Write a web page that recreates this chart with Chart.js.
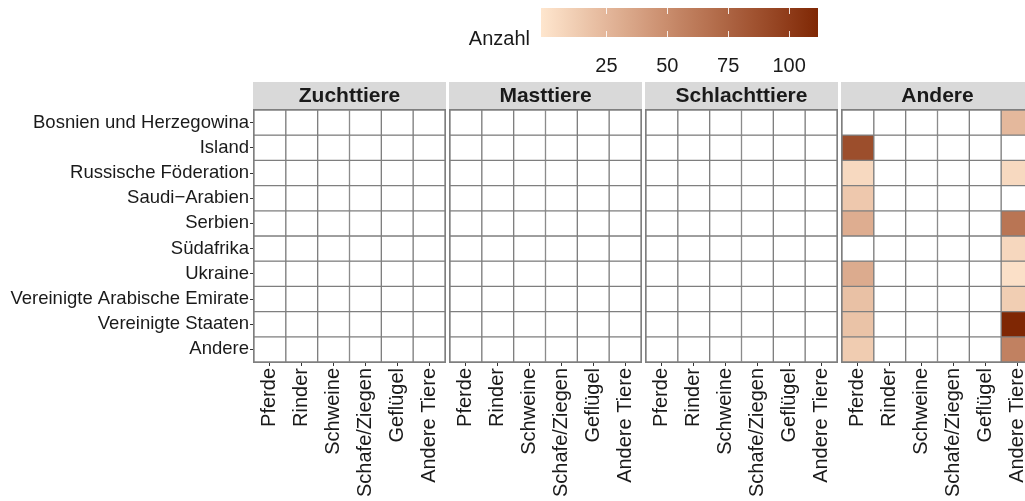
<!DOCTYPE html>
<html>
<head>
<meta charset="utf-8">
<script src="https://cdn.jsdelivr.net/npm/chart.js@4.4.1/dist/chart.umd.min.js"></script>
<style>
  html, body { margin: 0; padding: 0; background: #fff; overflow: hidden; }
  #wrap { position: relative; width: 1025px; height: 501px; overflow: hidden; }
  #wrap canvas { position: absolute; top: 0; }
</style>
</head>
<body>
<div id="wrap"></div>
<script>
// 1. DATEN
const countries = ['Bosnien und Herzegowina', 'Island', 'Russische Föderation', 'Saudi\u2212Arabien', 'Serbien',
  'Südafrika', 'Ukraine', 'Vereinigte Arabische Emirate', 'Vereinigte Staaten', 'Andere'];
const animals = ['Pferde', 'Rinder', 'Schweine', 'Schafe/Ziegen', 'Geflügel', 'Andere Tiere'];
const facets = ['Zuchttiere', 'Masttiere', 'Schlachttiere', 'Andere'];
const legendTicks = [25, 50, 75, 100];
const limits = [1, 109];

// Anzahl je Land (von oben nach unten), null = kein Eintrag
const leer = [null, null, null, null, null, null, null, null, null, null];
const anderePferde      = [null, 87, 8, 17, 32, null, 33, 21, 20, 15];
const andereRinder      = [null, null, null, null, null, null, null, null, null, null];
const andereSchweine    = [null, null, null, null, null, null, null, null, null, null];
const andereSchafe      = [null, null, null, null, null, null, null, null, null, null];
const andereGefluegel   = [null, null, null, null, null, null, null, null, null, null];
const andereAndereTiere = [26, null, 8, null, 64, 9, 4, 14, 109, 57];

const facetColumns = [
  [leer, leer, leer, leer, leer, leer],
  [leer, leer, leer, leer, leer, leer],
  [leer, leer, leer, leer, leer, leer],
  [anderePferde, andereRinder, andereSchweine, andereSchafe, andereGefluegel, andereAndereTiere]
];

// 2. FARBSKALA (Lab-Interpolation wie ggplot)
const lowColor = '#FEE6CE', highColor = '#7F2704';
function hexToRgb(h) { return [1, 3, 5].map(i => parseInt(h.substr(i, 2), 16)); }
function toLin(c) { c /= 255; return c <= 0.04045 ? c / 12.92 : Math.pow((c + 0.055) / 1.055, 2.4); }
function fromLin(c) {
  c = c <= 0.0031308 ? 12.92 * c : 1.055 * Math.pow(c, 1 / 2.4) - 0.055;
  return Math.round(Math.max(0, Math.min(1, c)) * 255);
}
function rgbToLab(rgb) {
  const [r, g, b] = rgb.map(toLin);
  const x = (0.4124 * r + 0.3576 * g + 0.1805 * b) / 0.95047;
  const y = 0.2126 * r + 0.7152 * g + 0.0722 * b;
  const z = (0.0193 * r + 0.1192 * g + 0.9505 * b) / 1.08883;
  const f = t => t > 0.008856 ? Math.cbrt(t) : 7.787 * t + 16 / 116;
  return [116 * f(y) - 16, 500 * (f(x) - f(y)), 200 * (f(y) - f(z))];
}
function labToRgb([L, a, b]) {
  const fy = (L + 16) / 116, fx = fy + a / 500, fz = fy - b / 200;
  const inv = t => t * t * t > 0.008856 ? t * t * t : (t - 16 / 116) / 7.787;
  const x = inv(fx) * 0.95047, y = inv(fy), z = inv(fz) * 1.08883;
  const r = 3.2406 * x - 1.5372 * y - 0.4986 * z;
  const g = -0.9689 * x + 1.8758 * y + 0.0415 * z;
  const bb = 0.0557 * x - 0.2040 * y + 1.0570 * z;
  return [r, g, bb].map(fromLin);
}
const labLow = rgbToLab(hexToRgb(lowColor)), labHigh = rgbToLab(hexToRgb(highColor));
function colorFor(v) {
  if (v === null || v === undefined) return '#FFFFFF';
  const t = Math.max(0, Math.min(1, (v - limits[0]) / (limits[1] - limits[0])));
  const rgb = labToRgb(labLow.map((l, i) => l + (labHigh[i] - l) * t));
  return `rgb(${rgb[0]},${rgb[1]},${rgb[2]})`;
}

// 3. GRUNDEINSTELLUNGEN
Chart.defaults.font.family = '"Liberation Sans", Arial, Helvetica, sans-serif';
Chart.defaults.color = '#1A1A1A';
const wrap = document.getElementById('wrap');
const H = 501, TOP = 110, BOTTOM = 362, PANEL_W = 191, Y_AXIS_W = 254, PITCH = 196;

function makeCanvas(left, width, height) {
  const c = document.createElement('canvas');
  c.width = width; c.height = height;
  c.style.left = left + 'px';
  c.style.width = width + 'px'; c.style.height = height + 'px';
  wrap.appendChild(c);
  return c.getContext('2d');
}

// Streifen oben + Rahmen um die Kacheln
const stripPlugin = {
  id: 'strip',
  beforeDraw(chart, args, opts) {
    const { ctx, chartArea: a } = chart;
    ctx.save();
    ctx.fillStyle = '#D9D9D9';
    ctx.fillRect(a.left - 1, a.top - 28, a.right - a.left + 2, 27);
    ctx.fillStyle = '#1A1A1A';
    ctx.font = 'bold 21px "Liberation Sans", Arial, sans-serif';
    ctx.textAlign = 'center';
    ctx.textBaseline = 'middle';
    ctx.fillText(opts.title, (a.left + a.right) / 2, a.top - 14);
    ctx.restore();
  },
  afterDatasetsDraw(chart) {
    const { ctx, chartArea: a } = chart;
    ctx.save();
    ctx.strokeStyle = '#7F7F7F';
    ctx.lineWidth = 1;
    ctx.strokeRect(a.left - 0.5, a.top - 0.5, a.right - a.left + 1, a.bottom - a.top + 1);
    ctx.restore();
  }
};

// 4. PANELS
facets.forEach((facet, k) => {
  const first = k === 0;
  const panelLeft = Y_AXIS_W + k * PITCH;
  const canvasLeft = first ? 0 : panelLeft - 3;
  const canvasW = first ? Y_AXIS_W + PANEL_W + 3 : PANEL_W + 6;
  const ctx = makeCanvas(canvasLeft, canvasW, H);
  const cols = facetColumns[k];

  const datasets = countries.map((c, i) => ({
    label: c,
    data: animals.map(() => 1),
    backgroundColor: animals.map((a, j) => colorFor(cols[j][i])),
    borderColor: '#7F7F7F',
    borderWidth: 1,
    borderSkipped: false,
    barPercentage: 1,
    categoryPercentage: 1
  }));

  new Chart(ctx, {
    type: 'bar',
    data: { labels: animals, datasets },
    plugins: [stripPlugin],
    options: {
      responsive: false,
      animation: false,
      layout: { padding: { top: TOP, left: first ? 0 : 3, right: 3, bottom: 0 } },
      plugins: { legend: { display: false }, tooltip: { enabled: false }, strip: { title: facet } },
      scales: {
        x: {
          stacked: true,
          grid: { display: true, drawOnChartArea: false, drawTicks: true, tickLength: 4, tickColor: '#333333', offset: false },
          border: { display: false },
          ticks: { font: { size: 20 }, color: '#1A1A1A', minRotation: 90, maxRotation: 90, autoSkip: false, padding: 2 },
          afterFit(scale) {
            scale.height = H - BOTTOM;
            scale.paddingLeft = 0; scale.paddingRight = 0;
          }
        },
        y: {
          display: first,
          stacked: true,
          min: 0, max: 10, reverse: true,
          grid: { display: true, drawOnChartArea: false, drawTicks: true, tickLength: 4, tickColor: '#333333' },
          border: { display: false },
          ticks: { font: { size: 18.5 }, color: '#1A1A1A', autoSkip: false, padding: 1,
                   callback: (v, i) => countries[i] },
          afterBuildTicks(scale) { scale.ticks = countries.map((c, i) => ({ value: i + 0.5 })); },
          afterFit(scale) {
            if (first) scale.width = Y_AXIS_W;
            scale.paddingTop = 0; scale.paddingBottom = 0;
          }
        }
      }
    }
  });
});

// 5. LEGENDE (Farbbalken)
const barLeft = 541, barRight = 818, barTop = 8, barBottom = 37;
const legCanvasLeft = 440, legCanvasW = 400, legCanvasH = 75;
const span = limits[1] - limits[0];
const pad = span * 0.025 / 0.95;

const colorbarPlugin = {
  id: 'colorbar',
  beforeDatasetsDraw(chart) {
    const { ctx, chartArea: a, scales } = chart;
    ctx.save();
    const grad = ctx.createLinearGradient(a.left, 0, a.right, 0);
    for (let s = 0; s <= 20; s++) {
      grad.addColorStop(s / 20, colorFor(limits[0] + span * s / 20));
    }
    ctx.fillStyle = grad;
    ctx.fillRect(a.left, a.top, a.right - a.left, a.bottom - a.top);
    ctx.strokeStyle = 'rgba(255,255,255,0.85)';
    ctx.lineWidth = 1;
    legendTicks.forEach(v => {
      const x = Math.round(scales.x.getPixelForValue(v)) + 0.5;
      ctx.beginPath();
      ctx.moveTo(x, a.top); ctx.lineTo(x, a.top + 6);
      ctx.moveTo(x, a.bottom - 6); ctx.lineTo(x, a.bottom);
      ctx.stroke();
    });
    ctx.fillStyle = '#1A1A1A';
    ctx.font = '20px "Liberation Sans", Arial, sans-serif';
    ctx.textAlign = 'right';
    ctx.textBaseline = 'alphabetic';
    ctx.fillText('Anzahl', a.left - 11, 45);
    ctx.restore();
  }
};

new Chart(makeCanvas(legCanvasLeft, legCanvasW, legCanvasH), {
  type: 'scatter',
  data: { datasets: [{ data: [] }] },
  plugins: [colorbarPlugin],
  options: {
    responsive: false,
    animation: false,
    layout: { padding: { top: barTop, left: barLeft - legCanvasLeft, right: legCanvasLeft + legCanvasW - barRight, bottom: 0 } },
    plugins: { legend: { display: false }, tooltip: { enabled: false } },
    scales: {
      x: {
        type: 'linear',
        min: limits[0] - pad, max: limits[1] + pad,
        grid: { display: false },
        border: { display: false },
        ticks: { font: { size: 20 }, color: '#1A1A1A', padding: 9, maxRotation: 0 },
        afterBuildTicks(scale) { scale.ticks = legendTicks.map(v => ({ value: v })); },
        afterFit(scale) { scale.height = legCanvasH - barBottom; }
      },
      y: { display: false, min: 0, max: 1 }
    }
  }
});
</script>
</body>
</html>
